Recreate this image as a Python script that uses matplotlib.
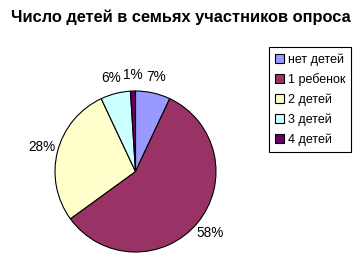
import matplotlib
matplotlib.use("Agg")
import matplotlib.pyplot as plt

title = "Число детей в семьях участников опроса"
categories = ["нет детей", "1 ребенок", "2 детей", "3 детей", "4 детей"]
values = [7, 58, 28, 6, 1]
colors = ["#9999FF", "#993366", "#FFFFCC", "#CCFFFF", "#660066"]

W, H = 363, 275
fig = plt.figure(figsize=(W / 100, H / 100), dpi=100)
fig.patch.set_facecolor("white")
ax = fig.add_axes([0, 0, 1, 1])

font = "Liberation Sans"
wedges, texts, autotexts = ax.pie(
    values, colors=colors, startangle=90, counterclock=False,
    center=(135.5, H - 171.5), radius=80.5, frame=True,
    autopct="%1.0f%%", pctdistance=1.2,
    wedgeprops=dict(edgecolor="black", linewidth=0.8),
    textprops=dict(fontsize=9.8, family=font, color="black"),
)
ax.set_xlim(0, W)
ax.set_ylim(0, H)
ax.set_aspect("equal")
ax.axis("off")

fig.text(181, H - 17, title, ha="center", va="center",
         fontsize=11.8, fontweight="bold", family=font,
         transform=None)

leg = fig.legend(wedges, categories, loc="upper left",
                 bbox_to_anchor=(269 / W, 1 - 47 / H),
                 prop=dict(family=font, size=9),
                 frameon=True, fancybox=False, framealpha=1,
                 edgecolor="black", borderpad=0.5,
                 handlelength=0.7, handleheight=0.7, handletextpad=0.3,
                 labelspacing=0.6, borderaxespad=0)
leg.get_frame().set_linewidth(0.8)

fig.savefig("out.png", dpi=100)
